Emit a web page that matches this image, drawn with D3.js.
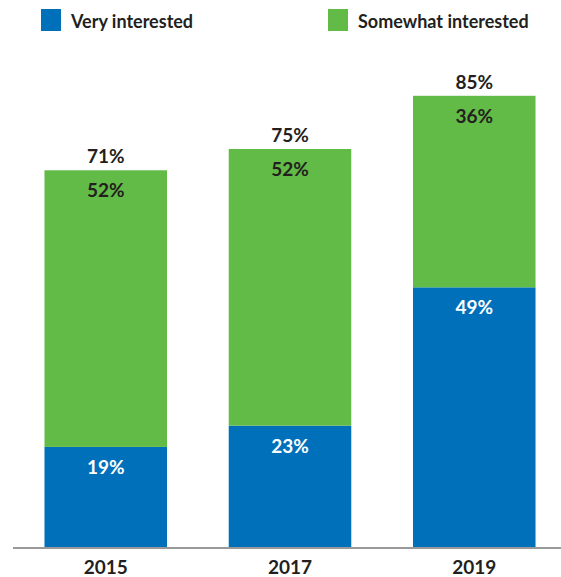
<!DOCTYPE html>
<html>
<head>
<meta charset="utf-8">
<script src="https://cdn.jsdelivr.net/npm/d3@7"></script>
<style>
  body { margin: 0; background: #fff; }
  text { font-family: Lato, "Open Sans", sans-serif; font-weight: 700; }
</style>
</head>
<body>
<div id="chart"></div>
<script>
// data
var years = ["2015", "2017", "2019"];
var veryInterested = [19, 23, 49];
var somewhatInterested = [52, 52, 36];
var totals = [71, 75, 85];
var seriesNames = ["Very interested", "Somewhat interested"];
var seriesColours = ["#0070bb", "#62bb46"];

var width = 561, height = 577;
var svg = d3.select("#chart").append("svg")
    .attr("width", width).attr("height", height);

var x = d3.scaleBand().domain(years).range([15, 565])
    .paddingInner(0.335).paddingOuter(0.16);
var y = d3.scaleLinear().domain([0, 100]).range([548, 16]);

var rows = years.map(function (d, i) {
  return { year: d, very: veryInterested[i], some: somewhatInterested[i], total: totals[i] };
});

// bars: blue at the bottom, green stacked on top
var g = svg.selectAll("g.bar").data(rows).enter().append("g").attr("class", "bar");
g.append("rect")
  .attr("x", function (d) { return x(d.year); })
  .attr("width", x.bandwidth())
  .attr("y", function (d) { return y(d.very); })
  .attr("height", function (d) { return y(0) - y(d.very); })
  .attr("fill", seriesColours[0]);
g.append("rect")
  .attr("x", function (d) { return x(d.year); })
  .attr("width", x.bandwidth())
  .attr("y", function (d) { return y(d.very + d.some); })
  .attr("height", function (d) { return y(d.very) - y(d.very + d.some); })
  .attr("fill", seriesColours[1]);

var cx = function (d) { return x(d.year) + x.bandwidth() / 2; };
// segment labels
g.append("text").text(function (d) { return d.very + "%"; })
  .attr("x", cx).attr("y", function (d) { return y(d.very) + 27; })
  .attr("text-anchor", "middle").attr("fill", "#fff").style("font-size", "19px");
g.append("text").text(function (d) { return d.some + "%"; })
  .attr("x", cx).attr("y", function (d) { return y(d.very + d.some) + 27; })
  .attr("text-anchor", "middle").attr("fill", "#231f20").style("font-size", "19px");
// totals above the bars
g.append("text").text(function (d) { return d.total + "%"; })
  .attr("x", cx).attr("y", function (d) { return y(d.very + d.some) - 7; })
  .attr("text-anchor", "middle").attr("fill", "#231f20").style("font-size", "19px");

// baseline
svg.append("line").attr("x1", 13).attr("x2", width)
  .attr("y1", y(0)).attr("y2", y(0))
  .attr("stroke", "#999").attr("stroke-width", 2);

// year labels
var xAxis = svg.append("g").attr("transform", "translate(0," + y(0) + ")")
  .call(d3.axisBottom(x).tickSize(0).tickPadding(0));
xAxis.select(".domain").remove();
xAxis.selectAll("text").attr("dy", null).attr("y", 26)
  .attr("fill", "#231f20").style("font-size", "19px");

// legend
var legendX = [41, 328];
var lg = svg.selectAll("g.legend").data(seriesNames).enter().append("g").attr("class", "legend")
  .attr("transform", function (d, i) { return "translate(" + legendX[i] + ",9)"; });
lg.append("rect").attr("width", 20).attr("height", 22)
  .attr("fill", function (d, i) { return seriesColours[i]; });
lg.append("text").text(function (d) { return d; })
  .attr("x", 30).attr("y", 19).attr("fill", "#231f20").style("font-size", "18px");
</script>
</body>
</html>
